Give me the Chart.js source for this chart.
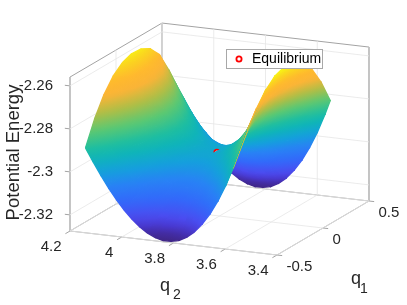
<!DOCTYPE html>
<html><head><meta charset="utf-8">
<style>html,body{margin:0;padding:0;background:#fff}canvas{display:block}</style>
<script src="https://cdn.jsdelivr.net/npm/chart.js@4"></script>
</head><body><canvas id="c" width="407" height="305"></canvas>
<script>
// --- data ---
const q1Values=[-0.5,-0.4,-0.3,-0.2,-0.1,0,0.1,0.2,0.3,0.4,0.5];
const q2Values=[4.14,4.11,4.08,4.05,4.02,3.99,3.96,3.93,3.90,3.87,3.84,3.81,3.78,3.75,3.72,3.69,3.66,3.63,3.60,3.57,3.55];
const zM05=[-2.2880,-2.2942,-2.3001,-2.3056,-2.3105,-2.3149,-2.3187,-2.3219,-2.3243,-2.3260,-2.3269,-2.3269,-2.3261,-2.3242,-2.3213,-2.3173,-2.3122,-2.3059,-2.2984,-2.2895,-2.2829];
const zM04=[-2.2769,-2.2831,-2.2890,-2.2945,-2.2994,-2.3038,-2.3076,-2.3108,-2.3132,-2.3149,-2.3158,-2.3158,-2.3150,-2.3131,-2.3102,-2.3065,-2.3018,-2.2960,-2.2889,-2.2804,-2.2741];
const zM03=[-2.2683,-2.2745,-2.2804,-2.2859,-2.2908,-2.2952,-2.2990,-2.3022,-2.3046,-2.3063,-2.3072,-2.3072,-2.3064,-2.3045,-2.3016,-2.2981,-2.2935,-2.2879,-2.2810,-2.2726,-2.2665];
const zM02=[-2.2622,-2.2684,-2.2743,-2.2798,-2.2847,-2.2891,-2.2929,-2.2961,-2.2985,-2.3002,-2.3011,-2.3011,-2.3003,-2.2984,-2.2955,-2.2920,-2.2874,-2.2818,-2.2749,-2.2665,-2.2604];
const zM01=[-2.2585,-2.2647,-2.2706,-2.2761,-2.2810,-2.2854,-2.2892,-2.2924,-2.2948,-2.2965,-2.2974,-2.2974,-2.2966,-2.2947,-2.2918,-2.2883,-2.2836,-2.2779,-2.2710,-2.2626,-2.2564];
const zP00=[-2.2568,-2.2631,-2.2690,-2.2746,-2.2796,-2.2841,-2.2880,-2.2912,-2.2936,-2.2953,-2.2962,-2.2962,-2.2954,-2.2935,-2.2906,-2.2870,-2.2823,-2.2765,-2.2695,-2.2609,-2.2547];
const zP01=[-2.2571,-2.2635,-2.2696,-2.2754,-2.2805,-2.2851,-2.2891,-2.2924,-2.2948,-2.2965,-2.2974,-2.2974,-2.2966,-2.2947,-2.2918,-2.2880,-2.2832,-2.2772,-2.2700,-2.2613,-2.2549];
const zP02=[-2.2594,-2.2660,-2.2723,-2.2784,-2.2837,-2.2885,-2.2926,-2.2961,-2.2985,-2.3002,-2.3011,-2.3011,-2.3003,-2.2984,-2.2955,-2.2916,-2.2866,-2.2804,-2.2730,-2.2641,-2.2576];
const zP03=[-2.2646,-2.2714,-2.2778,-2.2841,-2.2895,-2.2945,-2.2986,-2.3022,-2.3046,-2.3063,-2.3072,-2.3072,-2.3064,-2.3045,-2.3016,-2.2976,-2.2925,-2.2862,-2.2787,-2.2698,-2.2632];
const zP04=[-2.2741,-2.2807,-2.2870,-2.2931,-2.2984,-2.3032,-2.3073,-2.3108,-2.3132,-2.3149,-2.3158,-2.3158,-2.3150,-2.3131,-2.3102,-2.3062,-2.3011,-2.2948,-2.2873,-2.2784,-2.2718];
const zP05=[-2.2880,-2.2942,-2.3001,-2.3056,-2.3105,-2.3149,-2.3187,-2.3219,-2.3243,-2.3260,-2.3269,-2.3269,-2.3261,-2.3242,-2.3213,-2.3173,-2.3122,-2.3059,-2.2984,-2.2895,-2.2829];
const potential=[zM05,zM04,zM03,zM02,zM01,zP00,zP01,zP02,zP03,zP04,zP05];
const equilibrium={q1:0,q2:3.81,z:-2.298};
const zTicks=[-2.26,-2.28,-2.3,-2.32];
const zTickLabels=['-2.26','-2.28','-2.3','-2.32'];
const q2Ticks=[4.2,4,3.8,3.6,3.4];
const q2TickLabels=['4.2','4','3.8','3.6','3.4'];
const q1Ticks=[-0.5,0,0.5];
const q1TickLabels=['-0.5','0','0.5'];
const legendLabel='Equilibrium';

// --- view of the 3-D box ---
const Q2MAX=4.2,Q2SPAN=0.8,Q1MIN=-0.5,Q1SPAN=1,Z0=-2.3275,Z1=-2.2559;
const UX=207,VX=92,UY=24,VY=-54,PXZ=2150,LEFT=70,FLOORY=231;
function proj(q1,q2,z){const u=(Q2MAX-q2)/Q2SPAN,v=(q1-Q1MIN)/Q1SPAN;
  return {x:UX*u+VX*v,y:z-(UY*u+VY*v)/PXZ};}
function depth(q1,q2){const u=(Q2MAX-q2)/Q2SPAN,v=(q1-Q1MIN)/Q1SPAN;return UY*u+VY*v;}

const cmapStops=[[0,62,38,130],[.035,65,40,150],[.08,72,55,205],[.13,75,75,240],[.22,50,105,250],[.31,40,130,245],[.39,20,160,220],[.47,15,180,185],[.53,30,190,160],[.62,90,200,115],[.71,175,190,70],[.795,250,180,55],[.86,255,185,45],[.93,250,215,30],[.98,248,245,20],[1,248,248,20]];
const ZLOW=-2.3275,ZHIGH=-2.254;
function cmap(z){let t=(z-ZLOW)/(ZHIGH-ZLOW);t=Math.max(0,Math.min(1,t));
  for(let i=1;i<cmapStops.length;i++){const a=cmapStops[i-1],b=cmapStops[i];
    if(t<=b[0]){const f=(t-a[0])/(b[0]-a[0]);
      return `rgb(${a[1]+(b[1]-a[1])*f},${a[2]+(b[2]-a[2])*f},${a[3]+(b[3]-a[3])*f})`;}}
  return 'rgb(248,248,20)';}

const canvas=document.getElementById('c');
const g2=canvas.getContext('2d');
function triPaint(v,zs){
  // a flat triangle has an exact linear colour ramp in screen space
  return function(ctx){
    const zmin=Math.min(...zs),zmax=Math.max(...zs),zc=(zs[0]+zs[1]+zs[2])/3;
    const sx=ctx.chart.scales.x,sy=ctx.chart.scales.y;
    if(!sx||!sy||!isFinite(sx.getPixelForValue(0))||!isFinite(sy.getPixelForValue(Z0)))return cmap(zc);
    const p=v.map(a=>[sx.getPixelForValue(a.x),sy.getPixelForValue(a.y)]);
    const d1=[p[1][0]-p[0][0],p[1][1]-p[0][1]],d2=[p[2][0]-p[0][0],p[2][1]-p[0][1]];
    const dz1=zs[1]-zs[0],dz2=zs[2]-zs[0];
    const det=d1[0]*d2[1]-d1[1]*d2[0];
    if(Math.abs(det)<0.05||zmax-zmin<1e-7)return cmap(zc);
    const gx=(dz1*d2[1]-dz2*d1[1])/det,gy=(d1[0]*dz2-d2[0]*dz1)/det;
    const m=gx*gx+gy*gy;
    const k=zs.indexOf(zmin),dz=zmax-zmin;
    const g=g2.createLinearGradient(p[k][0],p[k][1],p[k][0]+gx/m*dz,p[k][1]+gy/m*dz);
    for(let i=0;i<=4;i++)g.addColorStop(i/4,cmap(zmin+dz*i/4));
    return g;
  };
}
const layers=[];
function addTri(c){
  const zs=c.map(a=>potential[a[0]][a[1]]);
  const v=c.map(a=>proj(q1Values[a[0]],q2Values[a[1]],potential[a[0]][a[1]]));
  const paint=triPaint(v,zs);
  const mq1=(q1Values[c[0][0]]+q1Values[c[1][0]]+q1Values[c[2][0]])/3;
  const mq2=(q2Values[c[0][1]]+q2Values[c[1][1]]+q2Values[c[2][1]])/3;
  layers.push({key:depth(mq1,mq2),ds:{
    type:'scatter',data:[...v,v[0]],showLine:true,pointRadius:0,tension:1e-7,fill:'shape',
    backgroundColor:paint,borderColor:paint,borderWidth:1.4,borderJoinStyle:'round',clip:false}});
}
for(let i=0;i<q1Values.length-1;i++)for(let j=0;j<q2Values.length-1;j++){
  addTri([[i,j],[i,j+1],[i+1,j+1]]);
  addTri([[i,j],[i+1,j+1],[i+1,j]]);
}
layers.push({key:depth(equilibrium.q1-0.062,equilibrium.q2-0.022),ds:{
  type:'scatter',label:legendLabel,data:[proj(equilibrium.q1,equilibrium.q2,equilibrium.z)],
  pointRadius:2.6,pointBorderWidth:1.8,pointBorderColor:'#ff0000',pointBackgroundColor:'#ffffff',clip:false}});
layers.sort((a,b)=>a.key-b.key);

function seg(pts,color,w){return {type:'scatter',data:pts,showLine:true,pointRadius:0,borderColor:color,borderWidth:w,fill:false,clip:false};}
const GRID='#e6e6e6',BOX='#a3a3a3';
const walls=[];
zTicks.forEach(z=>{walls.push(seg([proj(-.5,4.2,z),proj(.5,4.2,z),proj(.5,3.4,z)],GRID,0.8));});
q2Ticks.forEach(q=>{walls.push(seg([proj(-.5,q,Z0),proj(.5,q,Z0),proj(.5,q,Z1)],GRID,0.8));});
q1Ticks.forEach(q=>{walls.push(seg([proj(q,3.4,Z0),proj(q,4.2,Z0),proj(q,4.2,Z1)],GRID,0.8));});
const boxLines=[
 [[-.5,4.2,Z1],[.5,4.2,Z1],[.5,3.4,Z1],[.5,3.4,Z0]],
 [[-.5,4.2,Z1],[-.5,4.2,Z0],[-.5,3.4,Z0],[.5,3.4,Z0],[.5,4.2,Z0],[-.5,4.2,Z0]],
 [[.5,4.2,Z1],[.5,4.2,Z0]]
];
boxLines.forEach(l=>walls.push(seg(l.map(a=>proj(a[0],a[1],a[2])),BOX,1)));
q2Ticks.forEach(q=>walls.push(seg([proj(-.5,q,Z0),proj(-.55,q,Z0)],BOX,1)));
q1Ticks.forEach(q=>walls.push(seg([proj(q,3.4,Z0),proj(q,3.38,Z0)],BOX,1)));
zTicks.forEach(z=>walls.push(seg([proj(-.5,4.2,z),proj(-.5,4.22,z)],BOX,1)));

// chart.js paints dataset 0 last, so the stack is listed nearest first
const datasets=[...layers.map(l=>l.ds).reverse(),...walls];

const TXT='#262626';
const textPlugin={id:'labels3d',afterDraw(chart){
  const c=chart.ctx,sx=chart.scales.x,sy=chart.scales.y;
  const px=p=>[sx.getPixelForValue(p.x),sy.getPixelForValue(p.y)];
  c.save();c.fillStyle=TXT;c.textBaseline='middle';
  c.font='15px "Liberation Sans"';c.textAlign='right';
  q2Ticks.forEach((q,i)=>{const a=px(proj(-.5,q,Z0));c.fillText(q2TickLabels[i],a[0]-8.5,a[1]+16);});
  c.textAlign='left';
  q1Ticks.forEach((q,i)=>{const a=px(proj(q,3.4,Z0));c.fillText(q1TickLabels[i],a[0]+9.5,a[1]+11.5);});
  c.textAlign='center';
  c.font='18px "Liberation Sans"';
  c.fillText('q',165,286);c.fillText('q',356,279);
  c.font='14px "Liberation Sans"';
  c.fillText('2',177,295);c.fillText('1',364,289);
  // legend
  c.fillStyle='#ffffff';c.fillRect(226,49,96,19);
  c.strokeStyle='#a8a8a8';c.lineWidth=1;c.strokeRect(226.5,49.5,96,19);
  c.beginPath();c.arc(239,59,2.6,0,Math.PI*2);c.fillStyle='#fff';c.fill();
  c.strokeStyle='#ff0000';c.lineWidth=1.8;c.stroke();
  c.fillStyle='#000';c.textAlign='left';c.font='14px "Liberation Sans"';c.fillText(legendLabel,252,59.5);
  c.restore();
}};

new Chart(canvas,{type:'scatter',data:{datasets},plugins:[textPlugin],options:{
  responsive:false,animation:false,events:[],
  layout:{padding:0,autoPadding:false},
  plugins:{legend:{display:false},tooltip:{enabled:false},title:{display:false}},
  scales:{
    x:{type:'linear',display:false,min:0,max:337},
    y:{type:'linear',min:Z0-(305-FLOORY)/PXZ,max:Z0+FLOORY/PXZ,
      afterBuildTicks(s){s.ticks=zTicks.map(v=>({value:v}));},
      afterFit(s){s.width=LEFT;s.paddingTop=0;s.paddingBottom=0;},
      grid:{display:false},border:{display:false},
      ticks:{autoSkip:false,padding:9,color:TXT,font:{size:15,family:'"Liberation Sans"'},
        callback(v){const i=zTicks.indexOf(v);return i>=0?zTickLabels[i]:'';}},
      title:{display:true,text:'Potential Energy',color:TXT,font:{size:18.5,family:'"Liberation Sans"'},padding:{top:3,bottom:0}}
    }
  }
}});
</script></body></html>
